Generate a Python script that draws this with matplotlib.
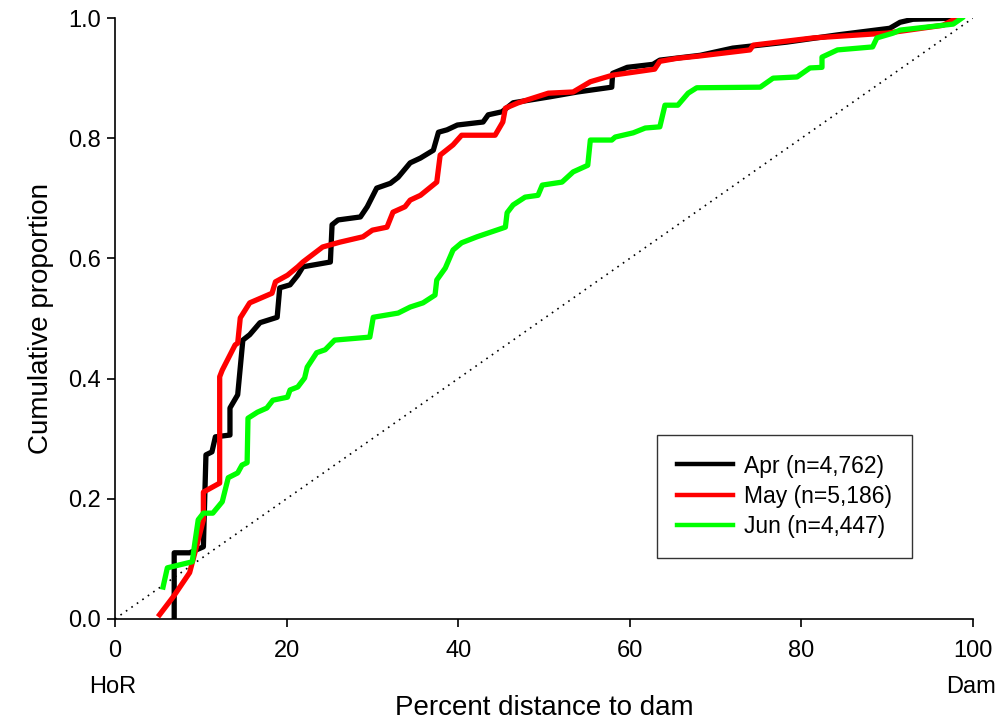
import matplotlib.pyplot as plt
import matplotlib.transforms as mtransforms

plt.rcParams['font.family'] = ['Liberation Sans', 'DejaVu Sans']

# percent distance to dam (x) and cumulative proportion (y)
apr_x = [6.9, 6.9, 8.7, 10.3, 10.6, 11.3, 11.7, 13.4, 13.4, 14.3, 14.9, 15.7, 16.9, 18.9, 19.2,
         20.4, 21.3, 21.9, 25.1, 25.3, 26.0, 28.6, 29.4, 30.5, 32.1, 33.0, 34.4, 35.6, 37.1, 37.7,
         38.7, 39.9, 42.9, 43.5, 45.1, 46.4, 50.7, 53.9, 57.9, 58.0, 59.7, 62.7, 63.5, 68.2, 72.0,
         78.3, 84.2, 90.3, 91.5, 93.0, 98.1]
apr_y = [0.0, 0.110, 0.110, 0.120, 0.273, 0.278, 0.303, 0.306, 0.351, 0.373, 0.464, 0.473, 0.493,
         0.502, 0.551, 0.556, 0.572, 0.586, 0.594, 0.656, 0.664, 0.669, 0.686, 0.717, 0.725, 0.735,
         0.759, 0.767, 0.780, 0.810, 0.814, 0.822, 0.827, 0.839, 0.844, 0.859, 0.869, 0.877, 0.885,
         0.908, 0.918, 0.923, 0.930, 0.938, 0.950, 0.960, 0.972, 0.983, 0.993, 0.998, 1.0]

may_x = [5.2, 6.8, 8.7, 9.6, 10.3, 10.3, 12.2, 12.2, 12.5, 14.0, 14.3, 14.6, 15.7, 18.3, 18.7,
         20.1, 21.3, 21.9, 24.2, 26.2, 28.9, 30.0, 31.7, 32.4, 33.8, 34.4, 35.6, 37.5, 37.9, 39.4,
         40.4, 44.3, 45.2, 45.5, 47.0, 50.5, 53.4, 55.4, 58.0, 62.9, 63.5, 65.5, 68.2, 74.0, 74.4,
         81.4, 90.0, 96.5, 98.1]
may_y = [0.007, 0.037, 0.077, 0.126, 0.165, 0.211, 0.226, 0.403, 0.414, 0.456, 0.459, 0.501, 0.526,
         0.542, 0.561, 0.572, 0.586, 0.594, 0.619, 0.627, 0.636, 0.647, 0.652, 0.677, 0.686, 0.697,
         0.705, 0.727, 0.772, 0.789, 0.805, 0.805, 0.827, 0.850, 0.859, 0.875, 0.877, 0.894, 0.905,
         0.915, 0.928, 0.933, 0.937, 0.947, 0.955, 0.967, 0.975, 0.988, 1.0]

jun_x = [5.6, 6.1, 9.0, 9.3, 9.7, 10.3, 11.4, 12.5, 13.2, 14.3, 14.8, 15.4, 15.5, 16.6, 17.7,
         18.4, 20.1, 20.4, 21.3, 22.1, 22.4, 23.5, 24.5, 25.6, 29.7, 30.1, 33.0, 34.4, 35.9, 37.3,
         37.5, 38.5, 39.4, 40.4, 42.2, 45.5, 45.7, 46.4, 47.8, 49.3, 49.8, 52.1, 53.4, 55.1, 55.4,
         57.9, 58.3, 60.4, 61.8, 63.5, 64.1, 65.6, 66.8, 67.8, 75.2, 76.7, 79.5, 81.0, 82.4, 82.4,
         84.2, 88.3, 88.8, 90.7, 91.5, 97.7, 98.7]
jun_y = [0.053, 0.085, 0.095, 0.126, 0.165, 0.176, 0.176, 0.195, 0.235, 0.243, 0.256, 0.260, 0.334,
         0.344, 0.351, 0.364, 0.369, 0.381, 0.386, 0.401, 0.419, 0.443, 0.448, 0.464, 0.469, 0.502,
         0.509, 0.519, 0.526, 0.539, 0.564, 0.584, 0.614, 0.626, 0.636, 0.652, 0.676, 0.689, 0.702,
         0.705, 0.722, 0.727, 0.744, 0.755, 0.797, 0.797, 0.802, 0.809, 0.817, 0.819, 0.855, 0.855,
         0.875, 0.884, 0.885, 0.900, 0.902, 0.917, 0.918, 0.935, 0.947, 0.952, 0.967, 0.975, 0.980,
         0.990, 1.0]

labels = ['Apr (n=4,762)', 'May (n=5,186)', 'Jun (n=4,447)']
colors = ['black', '#ff0000', '#00ff00']

fig = plt.figure(figsize=(10, 7.23), dpi=100)
ax = fig.add_axes([0.115, 0.144, 0.858, 0.831])

# 1:1 reference line
ax.plot([0, 100], [0, 1], color='black', linestyle=(0, (1, 3)), linewidth=1.2)

ax.plot(apr_x, apr_y, color=colors[0], linewidth=3.8, label=labels[0], zorder=3)
ax.plot(may_x, may_y, color=colors[1], linewidth=3.8, label=labels[1], zorder=4)
ax.plot(jun_x, jun_y, color=colors[2], linewidth=3.8, label=labels[2], zorder=5)

ax.set_xlim(0, 100)
ax.set_ylim(0, 1.0)
ax.set_xticks([0, 20, 40, 60, 80, 100])
ax.set_yticks([0.0, 0.2, 0.4, 0.6, 0.8, 1.0])
ax.set_yticklabels(['0.0', '0.2', '0.4', '0.6', '0.8', '1.0'])
ax.tick_params(direction='out', length=6, width=1.2, labelsize=17, pad=4)
ax.tick_params(axis='x', pad=9)

for s in ['top', 'right']:
    ax.spines[s].set_visible(False)
for s in ['left', 'bottom']:
    ax.spines[s].set_linewidth(1.2)

ax.set_xlabel('Percent distance to dam', fontsize=20, labelpad=24)
ax.set_ylabel('Cumulative proportion', fontsize=20, labelpad=10)

trans = mtransforms.blended_transform_factory(ax.transData, ax.transAxes)
ax.text(-0.3, -0.113, 'HoR', transform=trans, ha='center', va='center', fontsize=17)
ax.text(99.8, -0.113, 'Dam', transform=trans, ha='center', va='center', fontsize=17)

leg = ax.legend(loc='upper left', bbox_to_anchor=(0.632, 0.306), fontsize=16.5,
                frameon=True, fancybox=False, edgecolor='black', handlelength=2.45,
                borderpad=0.85, labelspacing=0.32, handletextpad=0.5, borderaxespad=0)
leg.get_frame().set_linewidth(1.0)
for line in leg.get_lines():
    line.set_linewidth(3.2)

fig.savefig('out.png', dpi=100)
